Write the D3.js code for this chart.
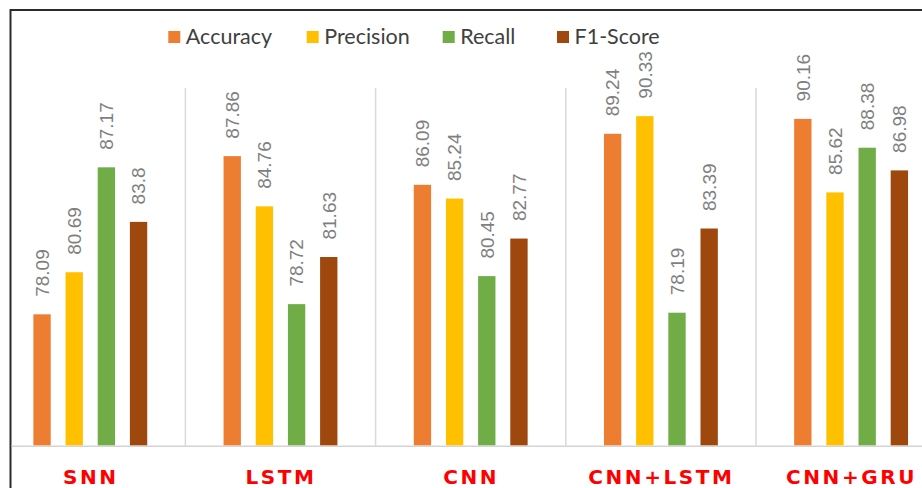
<!DOCTYPE html>
<html>
<head>
<meta charset="utf-8">
<script src="https://cdn.jsdelivr.net/npm/d3@7/dist/d3.min.js"></script>
<style>
  html, body { margin: 0; padding: 0; background: #fff; }
  svg { display: block; }
</style>
</head>
<body>
<svg id="chart" width="922" height="488"></svg>
<script>
// Model comparison: four metrics per model
const categories = ["SNN", "LSTM", "CNN", "CNN+LSTM", "CNN+GRU"];
const metrics = ["Accuracy", "Precision", "Recall", "F1-Score"];
const accuracy  = [78.09, 87.86, 86.09, 89.24, 90.16];
const precision = [80.69, 84.76, 85.24, 90.33, 85.62];
const recall    = [87.17, 78.72, 80.45, 78.19, 88.38];
const f1Score   = [83.8, 81.63, 82.77, 83.39, 86.98];
const seriesValues = [accuracy, precision, recall, f1Score];
const colors = ["#ED7D31", "#FFC000", "#70AD47", "#9E480E"];

const svg = d3.select("#chart");
svg.append("rect").attr("width", 922).attr("height", 488).attr("fill", "#fff");

// scales
const x0 = d3.scaleBand().domain(categories).range([-4.8, 946.2]).paddingInner(0).paddingOuter(0);
const x1 = d3.scaleBand().domain(metrics).range([0, x0.bandwidth()])
  .paddingInner(0.461).paddingOuter(1.186);
const y = d3.scaleLinear().domain([70, 90]).range([445.3, 121.5]);
const color = d3.scaleOrdinal().domain(metrics).range(colors);

// frame
svg.append("path")
  .attr("d", "M10.5,488 L10.5,10 L922,10")
  .attr("fill", "none").attr("stroke", "#2b2b2b").attr("stroke-width", 2);

// group separators
svg.append("g").selectAll("line")
  .data(categories.slice(1))
  .join("line")
  .attr("x1", d => x0(d)).attr("x2", d => x0(d))
  .attr("y1", 88).attr("y2", 445.5)
  .attr("stroke", "#d9d9d9").attr("stroke-width", 1.5);

// category axis line
svg.append("line")
  .attr("x1", 11.5).attr("x2", 922)
  .attr("y1", 446.2).attr("y2", 446.2)
  .attr("stroke", "#d4d4d4").attr("stroke-width", 1.6);

// rows: one per (category, metric)
const rows = [];
categories.forEach((c, i) => {
  metrics.forEach((m, j) => rows.push({ category: c, metric: m, value: seriesValues[j][i] }));
});

const groups = svg.append("g").selectAll("g")
  .data(categories)
  .join("g")
  .attr("transform", d => `translate(${x0(d)},0)`);

groups.selectAll("rect")
  .data(c => rows.filter(r => r.category === c))
  .join("rect")
  .attr("x", d => x1(d.metric))
  .attr("width", x1.bandwidth())
  .attr("y", d => y(d.value))
  .attr("height", d => y(70) - y(d.value))
  .attr("fill", d => color(d.metric));

// rotated value labels
groups.selectAll("text")
  .data(c => rows.filter(r => r.category === c))
  .join("text")
  .attr("transform", d => `translate(${x1(d.metric) + x1.bandwidth() / 2},${y(d.value) - 17.5}) rotate(-90)`)
  .attr("dy", "0.36em")
  .attr("font-family", "'Liberation Sans', Arial, sans-serif")
  .attr("font-size", 19)
  .attr("fill", "#7f7f7f")
  .text(d => String(d.value));

// category labels
svg.append("g").selectAll("text")
  .data(categories)
  .join("text")
  .attr("x", d => x0(d) + x0.bandwidth() / 2 + 0.5)
  .attr("y", 484)
  .attr("text-anchor", "middle")
  .attr("font-family", "'DejaVu Sans', sans-serif")
  .attr("font-weight", "bold")
  .attr("font-size", 20)
  .attr("letter-spacing", "2.6px")
  .attr("fill", "#ff0000")
  .text(d => d);

// legend
const legendX = [168.3, 306.7, 442.7, 557];
const legend = svg.append("g").selectAll("g")
  .data(metrics)
  .join("g")
  .attr("transform", (d, i) => `translate(${legendX[i]},0)`);
legend.append("rect")
  .attr("x", 0).attr("y", 31).attr("width", 12).attr("height", 12)
  .attr("fill", d => color(d));
legend.append("text")
  .attr("x", 17.5).attr("y", 43.5)
  .attr("font-family", "Lato, sans-serif")
  .attr("font-size", 21.5)
  .attr("fill", "#404040")
  .text(d => d);
</script>
</body>
</html>
